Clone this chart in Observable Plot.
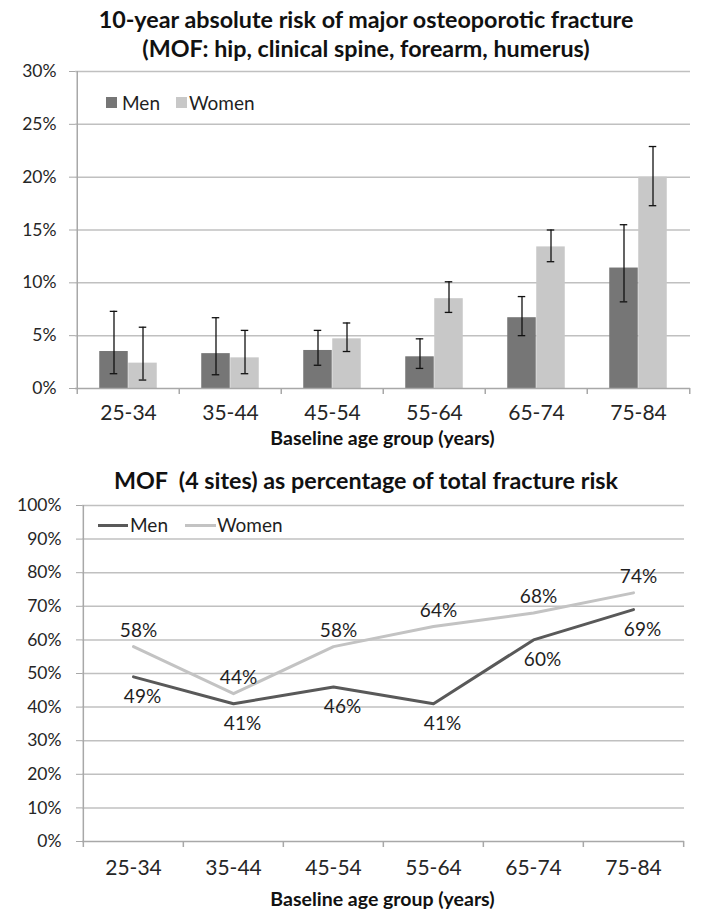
<!DOCTYPE html>
<html>
<head>
<meta charset="utf-8">
<script src="https://cdn.jsdelivr.net/npm/d3@7"></script>
<script src="https://cdn.jsdelivr.net/npm/@observablehq/plot@0.6"></script>
<style>
  body { margin: 0; background: #fff; font-family: Lato, "Noto Sans", sans-serif; color: #1f1f1f; }
  #wrap { position: relative; width: 704px; height: 923px; overflow: hidden; background: #fff; }
  .chart { position: absolute; left: 0; z-index: 1; }
  .title { position: absolute; z-index: 2; left: 0; width: 732px; text-align: center; font-weight: bold; font-size: 23.3px; line-height: 29px; color: #111; white-space: pre; }
  .axtitle { position: absolute; z-index: 2; left: 0; width: 765px; text-align: center; font-weight: bold; font-size: 19.5px; line-height: 22px; color: #111; }
  .leg { position: absolute; z-index: 2; font-size: 19px; line-height: 22px; color: #1f1f1f; }
  .sw { position: absolute; z-index: 2; }
</style>
</head>
<body>
<div id="wrap">
  <div class="title" style="top:5px">10-year absolute risk of major osteoporotic fracture<br>(MOF: hip, clinical spine, forearm, humerus)</div>
  <div id="c1" class="chart" style="top:0px"></div>
  <div class="sw" style="left:106px;top:97px;width:11px;height:11px;background:#767676"></div>
  <div class="leg" style="left:122px;top:92px">Men</div>
  <div class="sw" style="left:176px;top:97px;width:11px;height:11px;background:#c8c8c8"></div>
  <div class="leg" style="left:189px;top:92px">Women</div>
  <div class="axtitle" style="top:427px">Baseline age group (years)</div>

  <div class="title" style="top:466px">MOF  (4 sites) as percentage of total fracture risk</div>
  <div id="c2" class="chart" style="top:460px"></div>
  <div class="sw" style="left:98px;top:524px;width:30px;height:3px;background:#595959"></div>
  <div class="leg" style="left:130px;top:514px">Men</div>
  <div class="sw" style="left:185px;top:524px;width:31px;height:3px;background:#c3c3c3"></div>
  <div class="leg" style="left:217px;top:514px">Women</div>
  <div class="axtitle" style="top:888px">Baseline age group (years)</div>
</div>
<script>
// ---- data ----
const ages = ["25-34", "35-44", "45-54", "55-64", "65-74", "75-84"];

// Chart 1: 10-year absolute risk (%), with error bars
const menRisk   = [3.5, 3.3, 3.6, 3.0, 6.7, 11.4];
const menLo     = [1.4, 1.3, 2.2, 1.9, 5.0, 8.2];
const menHi     = [7.3, 6.7, 5.5, 4.7, 8.7, 15.5];
const womenRisk = [2.4, 2.9, 4.7, 8.5, 13.4, 20.0];
const womenLo   = [0.8, 1.4, 3.5, 7.2, 12.0, 17.3];
const womenHi   = [5.8, 5.5, 6.2, 10.1, 15.0, 22.9];
const yTicks1   = [0, 5, 10, 15, 20, 25, 30];

// Chart 2: MOF as percentage of total fracture risk
const menPct   = [49, 41, 46, 41, 60, 69];
const womenPct = [58, 44, 58, 64, 68, 74];
const yTicks2  = [0, 10, 20, 30, 40, 50, 60, 70, 80, 90, 100];

// ---- styles ----
const W = 704;
const gridColor = "#c0c0c0";
const axisColor = "#a8a8a8";
const textColor = "#262626";
const menBar = "#767676", womenBar = "#c8c8c8";
const menLine = "#595959", womenLine = "#c3c3c3";
const pct = d => d + "%";

// ---- chart 1 ----
const rows1 = ages.map((a, i) => ({
  age: a, men: menRisk[i], menLo: menLo[i], menHi: menHi[i],
  women: womenRisk[i], womenLo: womenLo[i], womenHi: womenHi[i]
}));
const ml1 = 75, mr1 = 14, mt1 = 71, mb1 = 42, plotH1 = 317;
const step1 = (W - ml1 - mr1) / ages.length;
const barW = step1 * 0.283;
const capHalf = 4;

const chart1 = Plot.plot({
  width: W,
  height: mt1 + plotH1 + mb1,
  marginLeft: ml1, marginRight: mr1, marginTop: mt1, marginBottom: mb1,
  style: { fontFamily: "Lato, sans-serif", fontSize: "17.5px", color: textColor, background: "transparent", overflow: "visible" },
  x: { type: "band", domain: ages, padding: 0, axis: null },
  y: { domain: [0, 30], axis: null },
  marks: [
    Plot.ruleY(yTicks1.filter(v => v > 0), { stroke: gridColor, strokeWidth: 1.5 }),
    Plot.axisY({ ticks: yTicks1, tickFormat: pct, tickSize: 6, tickPadding: 13, stroke: axisColor, fill: textColor, fontSize: 17.5, label: null }),
    Plot.axisX({ tickSize: 0, tickPadding: 17, fill: textColor, fontSize: 21, label: null }),
    Plot.barY(rows1, { x: "age", y: "men", fill: menBar, insetLeft: step1 / 2 - barW, insetRight: step1 / 2 }),
    Plot.barY(rows1, { x: "age", y: "women", fill: womenBar, insetLeft: step1 / 2, insetRight: step1 / 2 - barW }),
    Plot.ruleY([0], { stroke: axisColor, strokeWidth: 1.5 }),
    Plot.ruleX([ages[0]], { x: d => d, y1: 0, y2: 30, dx: -step1 / 2, stroke: axisColor, strokeWidth: 1.5 }),
    Plot.ruleX(ages, { x: d => d, y1: 0, y2: 0, insetBottom: -6, dx: -step1 / 2, stroke: axisColor, strokeWidth: 1.5 }),
    Plot.ruleX([ages[ages.length - 1]], { x: d => d, y1: 0, y2: 0, insetBottom: -6, dx: step1 / 2, stroke: axisColor, strokeWidth: 1.5 }),
    // error bars
    Plot.ruleX(rows1, { x: "age", y1: "menLo", y2: "menHi", dx: -barW / 2, stroke: "#111", strokeWidth: 1.3 }),
    Plot.tickY(rows1, { x: "age", y: "menLo", dx: -barW / 2, insetLeft: step1 / 2 - capHalf, insetRight: step1 / 2 - capHalf, stroke: "#111", strokeWidth: 1.3 }),
    Plot.tickY(rows1, { x: "age", y: "menHi", dx: -barW / 2, insetLeft: step1 / 2 - capHalf, insetRight: step1 / 2 - capHalf, stroke: "#111", strokeWidth: 1.3 }),
    Plot.ruleX(rows1, { x: "age", y1: "womenLo", y2: "womenHi", dx: barW / 2, stroke: "#111", strokeWidth: 1.3 }),
    Plot.tickY(rows1, { x: "age", y: "womenLo", dx: barW / 2, insetLeft: step1 / 2 - capHalf, insetRight: step1 / 2 - capHalf, stroke: "#111", strokeWidth: 1.3 }),
    Plot.tickY(rows1, { x: "age", y: "womenHi", dx: barW / 2, insetLeft: step1 / 2 - capHalf, insetRight: step1 / 2 - capHalf, stroke: "#111", strokeWidth: 1.3 })
  ]
});
document.getElementById("c1").appendChild(chart1);

// ---- chart 2 ----
const rows2 = ages.map((a, i) => ({ age: a, men: menPct[i], women: womenPct[i] }));
const ml2 = 82, mr2 = 20, mt2 = 45, mb2 = 42, plotH2 = 336;
const step2 = (W - ml2 - mr2) / ages.length;

const chart2 = Plot.plot({
  width: W,
  height: mt2 + plotH2 + mb2,
  marginLeft: ml2, marginRight: mr2, marginTop: mt2, marginBottom: mb2,
  style: { fontFamily: "Lato, sans-serif", fontSize: "17.5px", color: textColor, background: "transparent", overflow: "visible" },
  x: { type: "point", domain: ages, padding: 0.5, axis: null },
  y: { domain: [0, 100], axis: null },
  marks: [
    Plot.ruleY(yTicks2.filter(v => v > 0), { stroke: gridColor, strokeWidth: 1.5 }),
    Plot.axisY({ ticks: yTicks2, tickFormat: pct, tickSize: 6, tickPadding: 15, stroke: axisColor, fill: textColor, fontSize: 17.5, label: null }),
    Plot.axisX({ tickSize: 0, tickPadding: 19, fill: textColor, fontSize: 21, label: null }),
    Plot.ruleY([0], { stroke: axisColor, strokeWidth: 1.5 }),
    Plot.ruleX([ages[0]], { x: d => d, y1: 0, y2: 100, dx: -step2 / 2, stroke: axisColor, strokeWidth: 1.5 }),
    Plot.ruleX(ages, { x: d => d, y1: 0, y2: 0, insetBottom: -6, dx: -step2 / 2, stroke: axisColor, strokeWidth: 1.5 }),
    Plot.ruleX([ages[ages.length - 1]], { x: d => d, y1: 0, y2: 0, insetBottom: -6, dx: step2 / 2, stroke: axisColor, strokeWidth: 1.5 }),
    Plot.line(rows2, { x: "age", y: "women", stroke: womenLine, strokeWidth: 3 }),
    Plot.line(rows2, { x: "age", y: "men", stroke: menLine, strokeWidth: 3 }),
    Plot.text(rows2, { x: "age", y: "women", text: d => pct(d.women), dy: -16, dx: 5, fill: "#1f1f1f", fontSize: 19 }),
    Plot.text(rows2, { x: "age", y: "men", text: d => pct(d.men), dy: 20, dx: 9, fill: "#1f1f1f", fontSize: 19 })
  ]
});
document.getElementById("c2").appendChild(chart2);
</script>
</body>
</html>
